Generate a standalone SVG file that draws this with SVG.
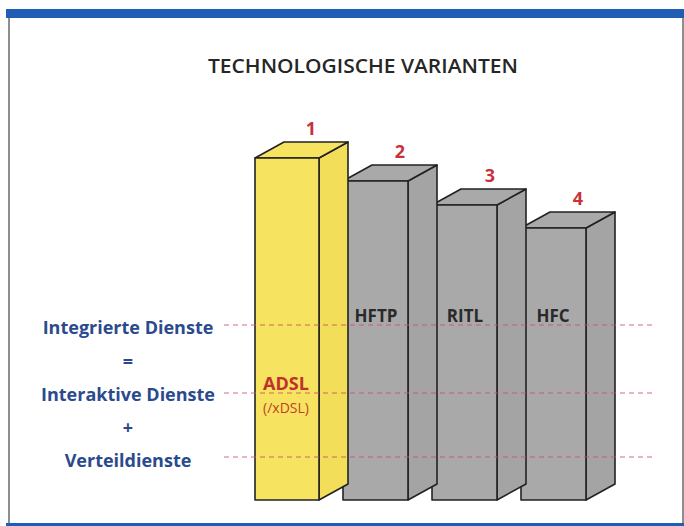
<svg xmlns="http://www.w3.org/2000/svg" width="684" height="526" viewBox="0 0 684 526">
<style>
.frame{fill:none;stroke:#444;stroke-width:1.2}
.face{stroke:#222;stroke-width:1.6;stroke-linejoin:round}
.y{fill:#f6e35f}
.ys{fill:#f2de58}
.g{fill:#a9a9a9}
.gs{fill:#a4a4a4}
.num{font-family:"Open Sans","Liberation Sans",sans-serif;font-weight:700;font-size:18px;fill:#c8323a;text-anchor:middle}
.lbl{font-family:"Open Sans","Liberation Sans",sans-serif;font-weight:700;font-size:17px;fill:#2a2a2a;text-anchor:middle}
.left{font-family:"Open Sans","Liberation Sans",sans-serif;font-weight:700;font-size:18px;fill:#2b4a8e;text-anchor:middle}
.dash{stroke:#c8506a;stroke-width:1;stroke-dasharray:5 4;fill:none;opacity:0.85}
</style>
<rect x="0" y="0" width="684" height="526" fill="#ffffff"/>
<rect x="6" y="9" width="678" height="9" fill="#1f5eb4"/>
<rect x="6" y="523" width="678" height="3" fill="#1f5eb4"/>
<line class="frame" x1="9" y1="18" x2="9" y2="523"/>
<line class="frame" x1="683" y1="18" x2="683" y2="523"/>
<text x="363" y="73" font-family="'Open Sans','Liberation Sans',sans-serif" font-weight="600" font-size="20" fill="#262626" text-anchor="middle" textLength="310" lengthAdjust="spacingAndGlyphs">TECHNOLOGISCHE VARIANTEN</text>
<g id="bar4">
<polygon class="face gs" points="586,228 615,212 615,484 586,500"/>
<polygon class="face g" points="521,228 550,212 615,212 586,228"/>
<rect class="face g" x="521" y="228" width="65" height="272"/>
<text class="num" x="578" y="205">4</text>
<text class="lbl" x="553" y="322">HFC</text>
</g>
<g id="bar3">
<polygon class="face gs" points="497,205 526,189 526,484 497,500"/>
<polygon class="face g" points="432,205 461,189 526,189 497,205"/>
<rect class="face g" x="432" y="205" width="65" height="295"/>
<text class="num" x="490" y="182">3</text>
<text class="lbl" x="465" y="322">RITL</text>
</g>
<g id="bar2">
<polygon class="face gs" points="408,181 437,165 437,484 408,500"/>
<polygon class="face g" points="343,181 372,165 437,165 408,181"/>
<rect class="face g" x="343" y="181" width="65" height="319"/>
<text class="num" x="400" y="158">2</text>
<text class="lbl" x="376" y="322">HFTP</text>
</g>
<g id="bar1">
<polygon class="face ys" points="319,158 348,142 348,484 319,500"/>
<polygon class="face y" points="255,158 284,142 348,142 319,158"/>
<rect class="face y" x="255" y="158" width="64" height="342"/>
<text class="num" x="311" y="135">1</text>
<text x="286" y="390" font-family="'Open Sans','Liberation Sans',sans-serif" font-weight="700" font-size="18" fill="#c0302e" text-anchor="middle">ADSL</text>
<text x="286" y="413" font-family="'Open Sans','Liberation Sans',sans-serif" font-size="14" fill="#c0402e" text-anchor="middle">(/xDSL)</text>
</g>
<g id="labels">
<text class="left" x="128" y="334">Integrierte Dienste</text>
<text class="left" x="128" y="368">=</text>
<text class="left" x="128" y="401">Interaktive Dienste</text>
<text class="left" x="128" y="434">+</text>
<text class="left" x="128" y="467">Verteildienste</text>
</g>
<g id="connectors">
<line class="dash" x1="224" y1="325" x2="656" y2="325"/>
<line class="dash" x1="224" y1="393" x2="656" y2="393"/>
<line class="dash" x1="224" y1="457" x2="656" y2="457"/>
</g>
</svg>
